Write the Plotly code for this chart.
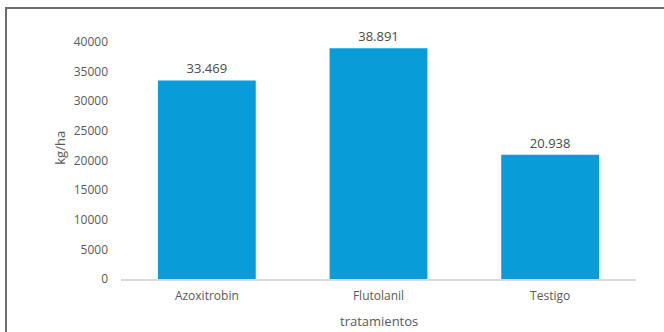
import plotly.graph_objects as go

categories = ["Azoxitrobin", "Flutolanil", "Testigo"]
values = [33469, 38891, 20938]
tick_vals = [0, 5000, 10000, 15000, 20000, 25000, 30000, 35000, 40000]

W, H = 664, 332
ML, MR, MT, MB = 121, 28, 12, 52.5
pw = W - ML - MR
ph = H - MT - MB

def px_x(x):
    return (x - ML) / pw

def px_y(y):
    return (H - MB - y) / ph

fig = go.Figure(go.Bar(
    x=categories, y=values,
    marker=dict(color="#089CD9", line=dict(width=0)),
    texttemplate="%{y:,}", textposition="outside",
    textfont=dict(family="Open Sans", size=13, color="#4A4A4A"),
    cliponaxis=False, hoverinfo="skip",
))

fig.update_layout(
    width=W, height=H,
    margin=dict(l=ML, r=MR, t=MT, b=MB, autoexpand=False),
    paper_bgcolor="white", plot_bgcolor="white",
    separators=",.",
    bargap=0.43,
    showlegend=False,
    font=dict(family="Open Sans", size=12, color="#595959"),
    xaxis=dict(
        automargin=False,
        showline=True, linecolor="#D9D9D9", linewidth=1.5,
        ticks="", tickfont=dict(size=12, color="#595959"), ticklabelstandoff=5,
    ),
    yaxis=dict(
        automargin=False,
        range=[0, 45000], tickvals=tick_vals, ticktext=[str(v) for v in tick_vals],
        showgrid=False, zeroline=False, showline=False, ticks="",
        tickfont=dict(size=12, color="#595959"), ticklabelstandoff=12,
    ),
    annotations=[
        dict(text="tratamientos", xref="paper", yref="paper",
             x=0.5, y=px_y(322), xanchor="center", yanchor="middle",
             showarrow=False, font=dict(size=13, color="#595959")),
        dict(text="kg/ha", xref="paper", yref="paper", textangle=-90,
             x=px_x(60), y=px_y(148), xanchor="center", yanchor="middle",
             showarrow=False, font=dict(size=13, color="#595959")),
    ],
    shapes=[
        dict(type="line", xref="paper", yref="paper",
             x0=px_x(5), x1=px_x(670), y0=px_y(8), y1=px_y(8),
             line=dict(color="#6E6E6E", width=2)),
        dict(type="line", xref="paper", yref="paper",
             x0=px_x(6), x1=px_x(6), y0=px_y(7), y1=px_y(340),
             line=dict(color="#6E6E6E", width=2)),
    ],
)

fig.write_html("out.html")
